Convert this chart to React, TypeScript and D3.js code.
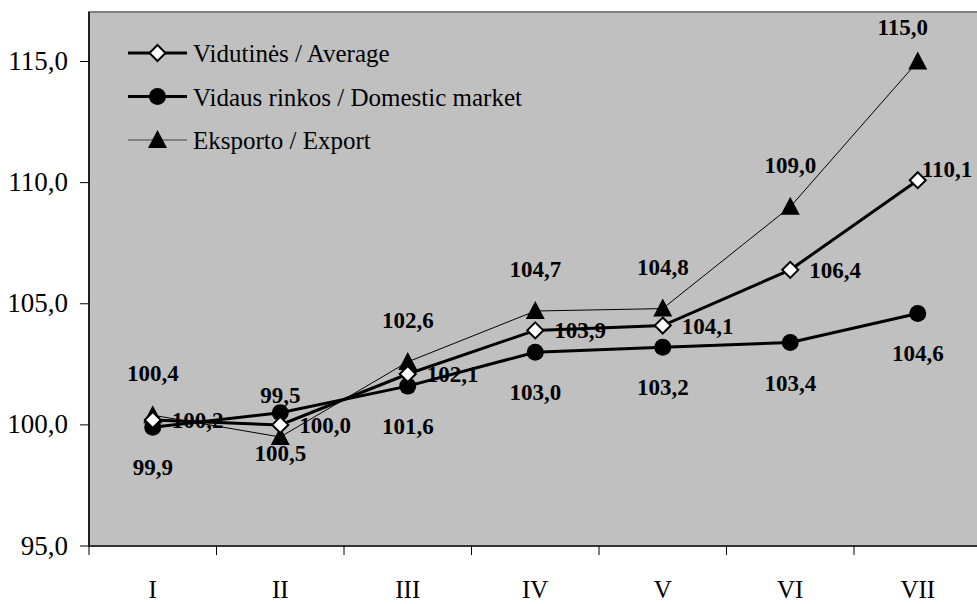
import React from "react";
import * as d3 from "d3";

const categories = ["I", "II", "III", "IV", "V", "VI", "VII"];
const averageValues = [100.2, 100.0, 102.1, 103.9, 104.1, 106.4, 110.1];
const domesticValues = [99.9, 100.5, 101.6, 103.0, 103.2, 103.4, 104.6];
const exportValues = [100.4, 99.5, 102.6, 104.7, 104.8, 109.0, 115.0];
const yTicks = [95, 100, 105, 110, 115];
const legendLabels = ["Vidutinės / Average", "Vidaus rinkos / Domestic market", "Eksporto / Export"];

const W = 977;
const H = 604;
const plotLeft = 89;
const plotTop = 12;
const plotBottom = 546;
const band = 127.5;

const fmt = (v: number) => v.toFixed(1).replace(".", ",");

export default function App() {
  const x = d3
    .scaleBand<string>()
    .domain(categories)
    .range([plotLeft, plotLeft + band * categories.length])
    .paddingInner(0)
    .paddingOuter(0);
  const cx = (c: string) => (x(c) as number) + x.bandwidth() / 2;
  const y = d3.scaleLinear().domain([95, 115]).range([plotBottom, 61.5]);

  const line = d3
    .line<number>()
    .x((_, i) => cx(categories[i]))
    .y((d) => y(d));

  const serif = "'Liberation Serif', 'Times New Roman', serif";
  const last = categories.length - 1;

  const diamond = (px: number, py: number, s = 8) =>
    `M${px},${py - s}L${px + s},${py}L${px},${py + s}L${px - s},${py}Z`;
  const triangle = (px: number, py: number) =>
    `M${px},${py - 10}L${px + 9.5},${py + 8}L${px - 9.5},${py + 8}Z`;

  const labelStyle = {
    fontFamily: serif,
    fontWeight: 700,
    fontSize: 23,
    fill: "#000",
  } as React.CSSProperties;

  const legendRows = [53, 96.5, 140];

  return (
    <svg
      width={W}
      height={H}
      style={{ position: "absolute", left: 0, top: 0, background: "#fff" }}
    >
      <rect
        x={plotLeft}
        y={plotTop}
        width={W - plotLeft + 10}
        height={plotBottom - plotTop}
        fill="#c0c0c0"
        stroke="#808080"
        strokeWidth={2}
      />
      {/* axes */}
      <line x1={plotLeft} x2={plotLeft} y1={plotTop} y2={plotBottom} stroke="#000" strokeWidth={1.5} />
      <line x1={plotLeft - 1} x2={W} y1={plotBottom} y2={plotBottom} stroke="#333" strokeWidth={2} />
      {yTicks.map((t) => (
        <g key={t}>
          <line x1={plotLeft - 9} x2={plotLeft} y1={y(t)} y2={y(t)} stroke="#000" strokeWidth={1} />
          <text
            x={68}
            y={y(t) + 8.5}
            textAnchor="end"
            style={{ fontFamily: serif, fontSize: 27, fill: "#000" }}
          >
            {fmt(t)}
          </text>
        </g>
      ))}
      {categories.map((c) => (
        <g key={c}>
          <line
            x1={x(c) as number}
            x2={x(c) as number}
            y1={plotBottom}
            y2={plotBottom + 9}
            stroke="#000"
            strokeWidth={1}
          />
          <text
            x={cx(c)}
            y={598}
            textAnchor="middle"
            style={{ fontFamily: serif, fontSize: 25, fill: "#000" }}
          >
            {c}
          </text>
        </g>
      ))}

      {/* lines */}
      <path d={line(exportValues) || ""} fill="none" stroke="#000" strokeWidth={1} />
      <path d={line(domesticValues) || ""} fill="none" stroke="#000" strokeWidth={3} />
      <path d={line(averageValues) || ""} fill="none" stroke="#000" strokeWidth={3} />

      {/* markers */}
      {exportValues.map((v, i) => (
        <path key={"e" + i} d={triangle(cx(categories[i]), y(v))} fill="#000" />
      ))}
      {domesticValues.map((v, i) => (
        <circle key={"d" + i} cx={cx(categories[i])} cy={y(v)} r={8.5} fill="#000" />
      ))}
      {averageValues.map((v, i) => (
        <path
          key={"a" + i}
          d={diamond(cx(categories[i]), y(v))}
          fill="#fff"
          stroke="#000"
          strokeWidth={2}
        />
      ))}

      {/* data labels */}
      {exportValues.map((v, i) => (
        <text
          key={"el" + i}
          x={cx(categories[i]) + (i === last ? -15 : 0)}
          y={y(v) - (i === last ? 27 : 34)}
          textAnchor="middle"
          style={labelStyle}
        >
          {fmt(v)}
        </text>
      ))}
      {domesticValues.map((v, i) => (
        <text
          key={"dl" + i}
          x={cx(categories[i])}
          y={y(v) + 48}
          textAnchor="middle"
          style={labelStyle}
        >
          {fmt(v)}
        </text>
      ))}
      {averageValues.map((v, i) => (
        <text
          key={"al" + i}
          x={cx(categories[i]) + (i === last ? 4 : 19)}
          y={y(v) + (i === last ? -3 : 8)}
          textAnchor="start"
          style={labelStyle}
        >
          {fmt(v)}
        </text>
      ))}

      {/* legend */}
      {legendLabels.map((lab, i) => {
        const ly = legendRows[i];
        const mx = 157.5;
        return (
          <g key={lab}>
            <line
              x1={128}
              x2={187}
              y1={ly}
              y2={ly}
              stroke={i === 2 ? "#404040" : "#000"}
              strokeWidth={i === 2 ? 1 : 3}
            />
            {i === 0 && <path d={diamond(mx, ly)} fill="#fff" stroke="#000" strokeWidth={2} />}
            {i === 1 && <circle cx={mx} cy={ly} r={8.5} fill="#000" />}
            {i === 2 && <path d={triangle(mx, ly)} fill="#000" />}
            <text
              x={193}
              y={ly + 9}
              style={{ fontFamily: serif, fontSize: 25, fill: "#000" }}
            >
              {lab}
            </text>
          </g>
        );
      })}
    </svg>
  );
}
